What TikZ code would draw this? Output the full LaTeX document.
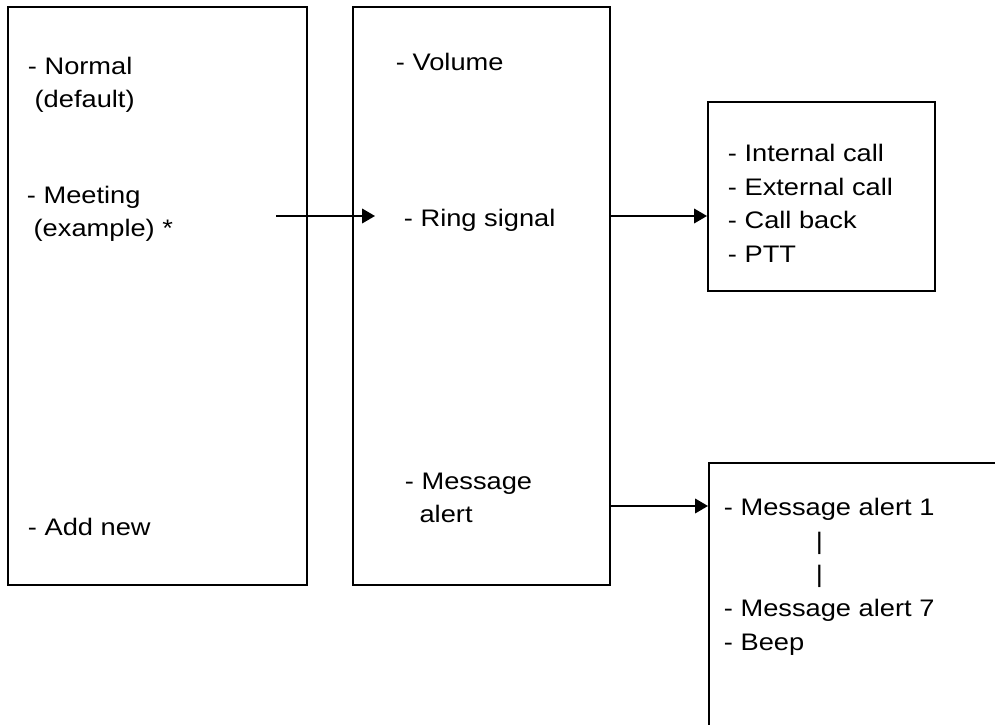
\documentclass[tikz,border=0pt]{standalone}
\usepackage{fontspec}
\setmainfont[FakeStretch=1.14]{Liberation Sans}
\usetikzlibrary{arrows.meta}

\begin{document}
\begin{tikzpicture}[line width=1.4pt,
  box/.style={draw,rectangle,inner sep=0pt},
  item/.style={anchor=base west,inner sep=0pt,align=left,font=\fontsize{17}{24}\selectfont},
  arr/.style={-{Triangle[length=0.32cm,width=0.36cm]}}]
\clip (0,0) rectangle (24.875,18.125);
% boxes
\node[box,minimum width=7.475cm,minimum height=14.45cm] (profiles) at (3.9375,10.725) {};
\node[box,minimum width=6.425cm,minimum height=14.45cm] (settings) at (12.0375,10.725) {};
\node[box,minimum width=5.675cm,minimum height=4.725cm] (ringbox) at (20.5375,13.2125) {};
\node[box,anchor=north west,minimum width=8cm,minimum height=8cm] (alertbox) at (17.7,6.575) {};
% texts (base = last line)
\node[item] (normal) at (0.675,15.428) {- Normal\\\hspace*{.28em}(default)};
\node[item] (meeting) at (0.65,12.203) {- Meeting\\\hspace*{.28em}(example) *};
\node[item] (addnew) at (0.675,4.725) {- Add new};
\node[item] (volume) at (9.875,16.35) {- Volume};
\node[item] (ring) at (10.075,12.45) {- Ring signal};
\node[item] (msg) at (10.1,5.053) {- Message\\\hspace*{.611em}alert};
\node[item] (calls) at (18.175,11.56) {- Internal call\\- External call\\- Call back\\- PTT};
\node[item] (alerts) at (18.075,1.863) {- Message alert 1\\\hspace*{2.3cm}|\\\hspace*{2.3cm}|\\- Message alert 7\\- Beep};
% arrows
\coordinate (meetout) at (6.9,12.725);
\coordinate (ringin) at (9.375,12.725);
\coordinate (alertout) at (15.25,5.475);
\draw[arr] (meetout) -- (ringin);
\draw[arr] (settings.east |- ringin) -- (ringbox.west |- ringin);
\draw[arr] (settings.east |- alertout) -- (alertbox.west |- alertout);
\end{tikzpicture}
\end{document}
